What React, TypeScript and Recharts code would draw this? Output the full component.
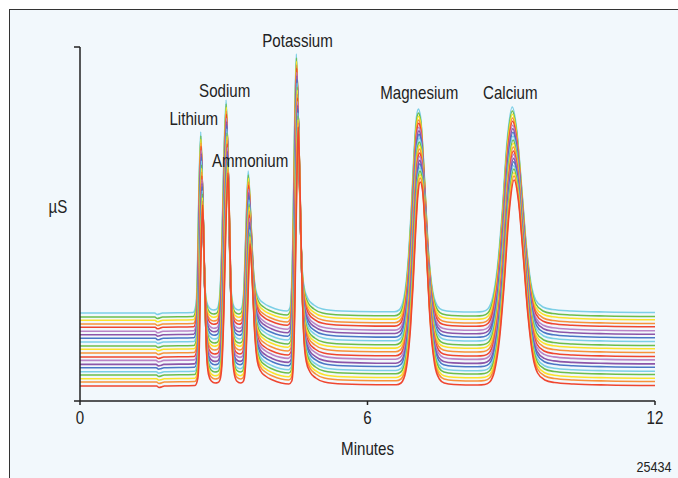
import { Label, Line, LineChart, ReferenceDot, XAxis, YAxis } from "recharts";

// retention time (min) and signal above baseline (µS) of the lowest (red) trace
const baseTimes = [
  0, 1.6, 1.65, 1.7, 1.76, 2.4, 2.46, 2.49, 2.52, 2.56, 2.6, 2.64, 2.68, 2.74, 2.82, 2.88,
  2.92, 2.96, 3.0, 3.04, 3.09, 3.13, 3.17, 3.21, 3.27, 3.35, 3.4, 3.43, 3.46, 3.5, 3.55,
  3.6, 3.65, 3.7, 3.77, 3.87, 4.02, 4.2, 4.36, 4.42, 4.45, 4.48, 4.52, 4.555, 4.59, 4.63, 4.67,
  4.72, 4.8, 4.92, 5.1, 5.5, 6.2, 6.6, 6.7, 6.8, 6.9, 6.95, 7.0, 7.05, 7.1, 7.15, 7.2, 7.25,
  7.3, 7.4, 7.5, 7.6, 7.8, 8.3, 8.45, 8.55, 8.65, 8.75, 8.85, 8.95, 9.06, 9.15, 9.25, 9.35,
  9.45, 9.55, 9.7, 9.9, 10.3, 11, 12,
];
const baseSignal = [
  0, 0, -0.015, -0.01, 0, 0.005, 0.08, 0.4, 1.2, 1.81, 1.1, 0.35, 0.12, 0.05, 0.03, 0.035,
  0.06, 0.2, 0.7, 1.5, 2.13, 1.4, 0.5, 0.15, 0.05, 0.03, 0.04, 0.08, 0.25, 0.8, 1.42,
  1.0, 0.5, 0.25, 0.15, 0.1, 0.06, 0.03, 0.02, 0.05, 0.2, 0.7, 1.9, 2.59, 2.0, 1.1, 0.5,
  0.25, 0.14, 0.08, 0.04, 0.02, 0.012, 0.012, 0.03, 0.15, 0.6, 1.0, 1.5, 1.9, 2.04, 1.95, 1.6, 1.15,
  0.7, 0.22, 0.07, 0.03, 0.015, 0.01, 0.015, 0.04, 0.15, 0.45, 1.0, 1.7, 2.06, 1.85, 1.3, 0.7,
  0.3, 0.13, 0.06, 0.035, 0.02, 0.01, 0.005,
];

// one entry per overlaid run, bottom (red) to top (cyan)
const runBaselines = [
  0.15, 0.19, 0.223, 0.26, 0.293, 0.333, 0.366, 0.406, 0.44, 0.48, 0.517, 0.55, 0.59, 0.627,
  0.663, 0.697, 0.737, 0.77, 0.807, 0.84, 0.88,
];
const runShifts = [
  0, -0.002, -0.004, -0.006, -0.008, -0.01, -0.012, -0.014, -0.016, -0.018, -0.02, -0.022,
  -0.024, -0.026, -0.028, -0.03, -0.032, -0.034, -0.036, -0.038, -0.04,
];

const peakNames = ["Lithium", "Sodium", "Ammonium", "Potassium", "Magnesium", "Calcium"];
const peakLabelTimes = [2.375, 3.02, 3.55, 4.54, 7.08, 8.98];
const peakLabelLevels = [2.76, 3.04, 2.34, 3.54, 3.025, 3.025];

const xTicks = [0, 6, 12];

const COLORS = ["#ef4630", "#f7923a", "#fbe32c", "#6dbd4b", "#7ccfe6", "#4a77c6", "#8c55a8", "#bb84c6"];
const FONT = '"Liberation Sans", Arial, sans-serif';
const INK = "#222";

const runs = runBaselines.map((level, i) => ({
  id: `run${i}`,
  color: COLORS[i % COLORS.length],
  points: baseTimes.map((t, j) => ({
    t: t === 0 || t === 12 ? t : t + runShifts[i],
    v: level + baseSignal[j],
  })),
}));

const peaks = peakNames.map((name, i) => ({
  name,
  t: peakLabelTimes[i],
  v: peakLabelLevels[i],
}));

// condensed type, like the original's narrow sans
function Narrow({ x, y, size = 18, children }: { x: number; y: number; size?: number; children: any }) {
  return (
    <text
      transform={`translate(${x},${y}) scale(0.84,1)`}
      textAnchor="middle"
      fontSize={size}
      fill={INK}
      fontFamily={FONT}
    >
      {children}
    </text>
  );
}

export default function App() {
  return (
    <div
      style={{
        position: "absolute",
        left: 0,
        top: 0,
        width: 678,
        height: 478,
        overflow: "hidden",
        background: "#fff",
      }}
    >
      <div
        style={{
          position: "absolute",
          left: 9,
          top: 9,
          width: 720,
          height: 520,
          background: "#f2f8fc",
          borderLeft: "1.5px solid #333",
          borderTop: "1.5px solid #333",
        }}
      />
      <div style={{ position: "absolute", left: 0, top: 0 }}>
        <LineChart width={678} height={478} margin={{ top: 47, right: 23, bottom: 47, left: 70 }}>
          <XAxis
            dataKey="t"
            type="number"
            domain={[0, 12]}
            ticks={xTicks}
            height={30}
            tickSize={4}
            tickMargin={0}
            axisLine={{ stroke: INK, strokeWidth: 1.5 }}
            tickLine={{ stroke: INK, strokeWidth: 1.5 }}
            tick={({ x, y, payload }: any) => (
              <Narrow x={x} y={y + 19}>
                {payload.value}
              </Narrow>
            )}
          >
            <Label
              content={({ viewBox }: any) => (
                <Narrow x={viewBox.x + viewBox.width / 2} y={viewBox.y + 54}>
                  Minutes
                </Narrow>
              )}
            />
          </XAxis>
          <YAxis
            type="number"
            domain={[0, 3.54]}
            ticks={[0, 3.54]}
            width={10}
            tickSize={6}
            axisLine={{ stroke: INK, strokeWidth: 1.5 }}
            tickLine={{ stroke: INK, strokeWidth: 1.5 }}
            tick={() => <g />}
          >
            <Label
              content={({ viewBox }: any) => (
                <Narrow x={viewBox.x + viewBox.width - 22} y={viewBox.y + 166}>
                  µS
                </Narrow>
              )}
            />
          </YAxis>
          {runs
            .slice()
            .reverse()
            .map((run) => (
              <Line
                key={run.id}
                data={run.points}
                dataKey="v"
                type="monotone"
                stroke={run.color}
                strokeWidth={1.6}
                dot={false}
                isAnimationActive={false}
              />
            ))}
          {peaks.map((p) => (
            <ReferenceDot
              key={p.name}
              x={p.t}
              y={p.v}
              ifOverflow="visible"
              shape={(props: any) => (
                <Narrow x={props.cx} y={props.cy}>
                  {p.name}
                </Narrow>
              )}
            />
          ))}
        </LineChart>
      </div>
      <svg style={{ position: "absolute", left: 0, top: 0 }} width={678} height={478}>
        <Narrow x={654} y={472} size={15}>
          25434
        </Narrow>
      </svg>
    </div>
  );
}
